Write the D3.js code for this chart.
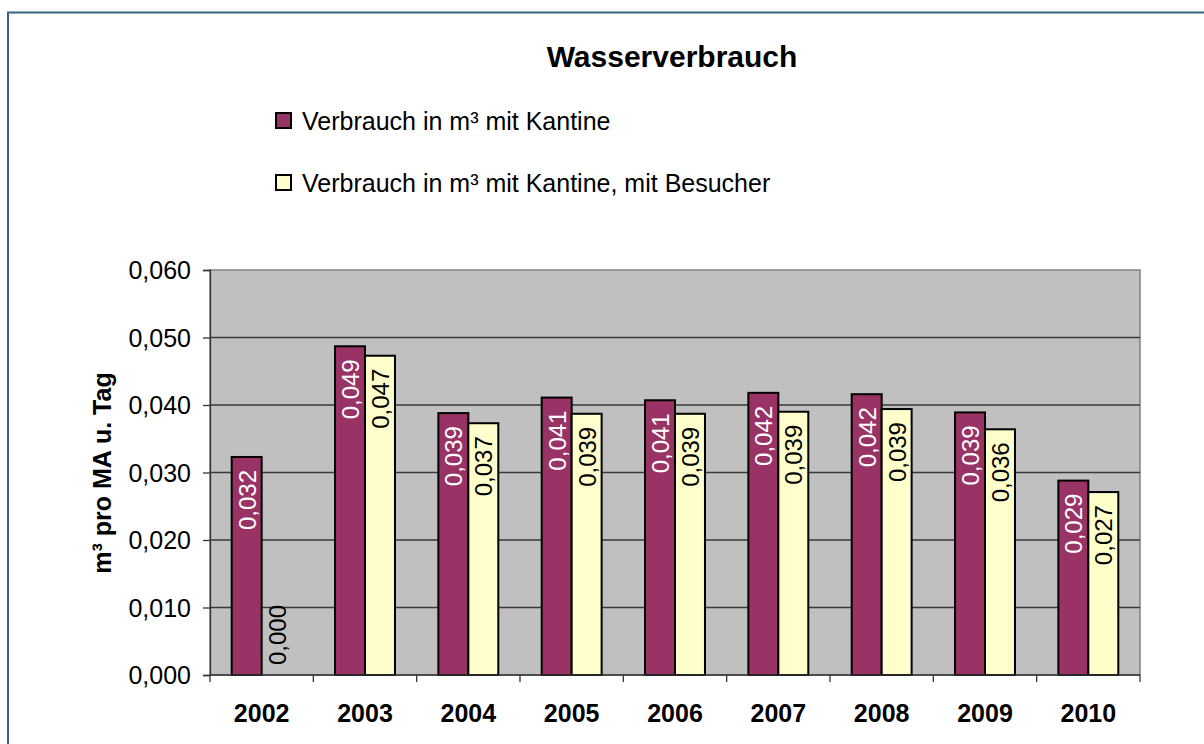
<!DOCTYPE html>
<html>
<head>
<meta charset="utf-8">
<script src="https://cdn.jsdelivr.net/npm/d3@7"></script>
<style>
	body{margin:0;background:#fff;}
	text{font-family:Arial,'Liberation Sans',sans-serif;}
</style>
</head>
<body>
<script>
//dims
const width = 1204, height = 744;
//data
const years = ['2002','2003','2004','2005','2006','2007','2008','2009','2010'];
const seriesNames = ['Verbrauch in m³ mit Kantine','Verbrauch in m³ mit Kantine, mit Besucher'];
const mitKantine = [0.0323,0.0487,0.0388,0.0411,0.0407,0.0418,0.0416,0.0389,0.0288];
const mitBesucher = [0.0000,0.0473,0.0373,0.0387,0.0387,0.0390,0.0394,0.0364,0.0271];
const yTicks = [0,0.01,0.02,0.03,0.04,0.05,0.06];
const colors = ['#993366','#FFFFCC'];
const labelColors = ['#fff','#000'];

const fmt = d => d.toFixed(3).replace('.',',');

const svg = d3.select('body').append('svg')
		.attr('width', width)
		.attr('height', height);

//outer frame (only left and top visible)
svg.append('path')
		.attr('d','M8,744V12.5H1204')
		.attr('fill','none')
		.attr('stroke','#336680')
		.attr('stroke-width',2);

//plot area
const plot = {left:210, right:1140, top:270, bottom:675};
const x0 = d3.scaleBand().domain(years).range([plot.left, plot.right]);
const x1 = d3.scaleBand().domain([0,1]).range([x0.bandwidth()*0.21, x0.bandwidth()*0.79]);
const y = d3.scaleLinear().domain([0,0.06]).range([plot.bottom, plot.top]);

svg.append('rect')
		.attr('x',plot.left).attr('y',plot.top)
		.attr('width',plot.right-plot.left).attr('height',plot.bottom-plot.top)
		.attr('fill','#C0C0C0')
		.attr('stroke','#808080')
		.attr('stroke-width',1.5);

//gridlines
svg.append('g').selectAll('line')
		.data(yTicks.filter(t => t>0 && t<0.06))
	.enter().append('line')
		.attr('x1',plot.left).attr('x2',plot.right)
		.attr('y1',d => y(d)).attr('y2',d => y(d))
		.attr('stroke','#3a3a3a')
		.attr('stroke-width',1.3);

//bars
const data = years.map((yr,i) => ({year:yr, values:[mitKantine[i], mitBesucher[i]]}));
const groups = svg.append('g').selectAll('g')
		.data(data)
	.enter().append('g')
		.attr('transform', d => `translate(${x0(d.year)},0)`);

groups.selectAll('rect')
		.data(d => d.values.map((v,k) => ({k, v})))
	.enter().filter(d => d.v > 0).append('rect')
		.attr('x', d => x1(d.k))
		.attr('width', x1.bandwidth())
		.attr('y', d => y(d.v))
		.attr('height', d => y(0)-y(d.v))
		.attr('fill', d => colors[d.k])
		.attr('stroke','#000')
		.attr('stroke-width',2);

//data labels, rotated
groups.selectAll('text')
		.data(d => d.values.map((v,k) => ({k, v})))
	.enter().append('text')
		.attr('transform', d => {
			const cx = x1(d.k) + x1.bandwidth()/2 + 9;
			const ty = d.v > 0 ? y(d.v) + 13 : y(0) - 10;
			return `translate(${cx},${ty}) rotate(-90)`;
		})
		.attr('text-anchor', d => d.v > 0 ? 'end' : 'start')
		.attr('fill', d => d.v > 0 ? labelColors[d.k] : '#000')
		.style('font-size','24px')
		.text(d => fmt(d.v));

//y axis
const yAxis = svg.append('g')
		.attr('transform',`translate(${plot.left},0)`)
		.call(d3.axisLeft(y).tickValues(yTicks).tickSize(7).tickPadding(12).tickFormat(fmt));
yAxis.selectAll('text').style('font-size','25px').attr('fill','#000').attr('dy','0.35em');
yAxis.selectAll('line,path').attr('stroke','#333').attr('stroke-width',1.3);

//x axis: ticks at category boundaries
const xAxis = svg.append('g');
xAxis.append('line')
		.attr('x1',plot.left).attr('x2',plot.right)
		.attr('y1',plot.bottom).attr('y2',plot.bottom)
		.attr('stroke','#333').attr('stroke-width',1.3);
xAxis.selectAll('.tick')
		.data(years.concat(['end']))
	.enter().append('line')
		.attr('x1', d => d==='end' ? plot.right : x0(d))
		.attr('x2', d => d==='end' ? plot.right : x0(d))
		.attr('y1',plot.bottom).attr('y2',plot.bottom+7)
		.attr('stroke','#333').attr('stroke-width',1.3);
xAxis.selectAll('text')
		.data(years)
	.enter().append('text')
		.attr('x', d => x0(d) + x0.bandwidth()/2)
		.attr('y', 722)
		.attr('text-anchor','middle')
		.style('font-size','25px')
		.style('font-weight','bold')
		.text(d => d);

//y axis title
svg.append('text')
		.attr('transform','translate(111,473) rotate(-90)')
		.attr('text-anchor','middle')
		.style('font-size','25px')
		.style('font-weight','bold')
		.text('m³ pro MA u. Tag');

//chart title
svg.append('text')
		.attr('x',672).attr('y',67)
		.attr('text-anchor','middle')
		.style('font-size','30px')
		.style('font-weight','bold')
		.text('Wasserverbrauch');

//legend
const legend = svg.append('g').selectAll('g')
		.data(seriesNames)
	.enter().append('g')
		.attr('transform',(d,i) => `translate(276,${113 + i*62})`);
legend.append('rect')
		.attr('width',15).attr('height',15)
		.attr('fill',(d,i) => colors[i])
		.attr('stroke','#000').attr('stroke-width',2);
legend.append('text')
		.attr('x',26).attr('y',17)
		.style('font-size','25px')
		.text(d => d);
</script>
</body>
</html>
